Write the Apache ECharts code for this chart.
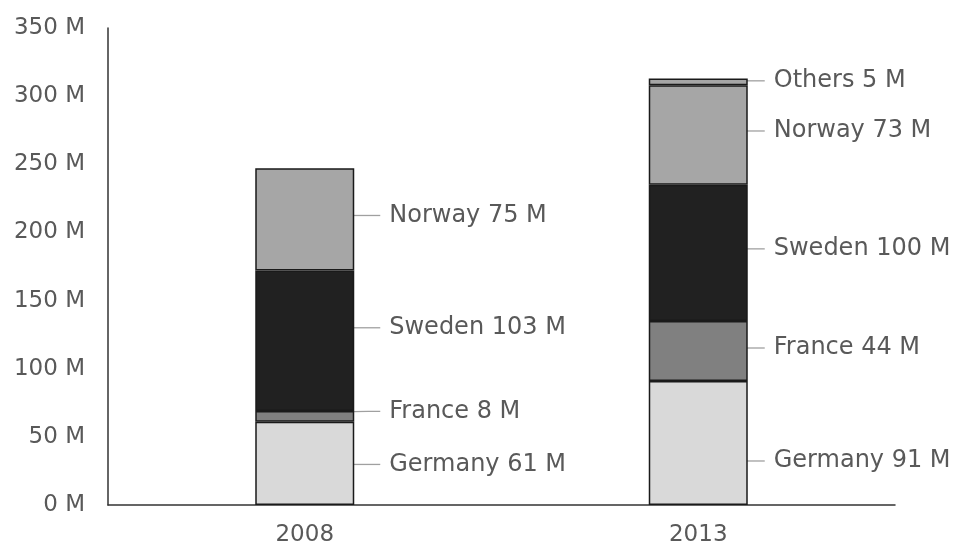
<!DOCTYPE html>
<html>
<head>
<meta charset="utf-8">
<script src="https://cdn.jsdelivr.net/npm/echarts@6/dist/echarts.min.js"></script>
<style>html,body{margin:0;padding:0;background:#fff}#c{width:953px;height:547px}</style>
</head>
<body>
<div id="c"></div>
<script>
var categories = ['2008', '2013'];
var seriesNames = ['Germany', 'France', 'Sweden', 'Norway', 'Others'];
var germany = [61, 91];
var france = [8, 44];
var sweden = [103, 100];
var norway = [75, 73];
var others = [null, 5];
var yTicks = [0, 50, 100, 150, 200, 250, 300, 350];

var values = [germany, france, sweden, norway, others];
var colors = ['#d9d9d9', '#808080', '#212121', '#a6a6a6', '#a6a6a6'];
// label nudges (px)
var dys = [[1, 18], [-5, -3], [-13, -4], [-4, -4], [0, -1]];
var dxs = [22, 13];

var chart = echarts.init(document.getElementById('c'), null, {renderer: 'canvas'});
var font = 'DejaVu Sans, Verdana, sans-serif';
var series = seriesNames.map(function (name, si) {
  return {
    name: name,
    type: 'bar',
    stack: 'total',
    barWidth: 99,
    data: values[si],
    itemStyle: {color: colors[si], borderColor: '#1a1a1a', borderWidth: 1.5},
    label: {
      show: true,
      position: 'right',
      distance: 4,
      color: '#595959',
      fontFamily: font,
      fontSize: 24,
      backgroundColor: 'rgba(255,255,255,0)',
      padding: [0, 0, 0, 9],
      formatter: function (p) { return p.seriesName + ' ' + p.value + ' M'; }
    },
    labelLine: {show: true, length2: 12, lineStyle: {color: '#a0a0a0', width: 1.3}},
    labelLayout: function (p) {
      return {dx: dxs[p.dataIndex], dy: dys[si][p.dataIndex]};
    }
  };
});

chart.setOption({
  animation: false,
  grid: {left: 108, right: 58, top: 28, bottom: 38},
  xAxis: {
    type: 'category',
    data: categories,
    axisLine: {lineStyle: {color: '#333', width: 1.5}},
    axisTick: {show: false},
    axisLabel: {color: '#595959', fontFamily: font, fontSize: 23, margin: 19}
  },
  yAxis: {
    type: 'value',
    min: yTicks[0],
    max: yTicks[yTicks.length - 1],
    interval: 50,
    axisLine: {show: true, lineStyle: {color: '#333', width: 1.5}},
    axisTick: {show: false},
    splitLine: {show: false},
    axisLabel: {color: '#595959', fontFamily: font, fontSize: 23, margin: 23,
      formatter: function (v) { return v + ' M'; }}
  },
  series: series
});
</script>
</body>
</html>
